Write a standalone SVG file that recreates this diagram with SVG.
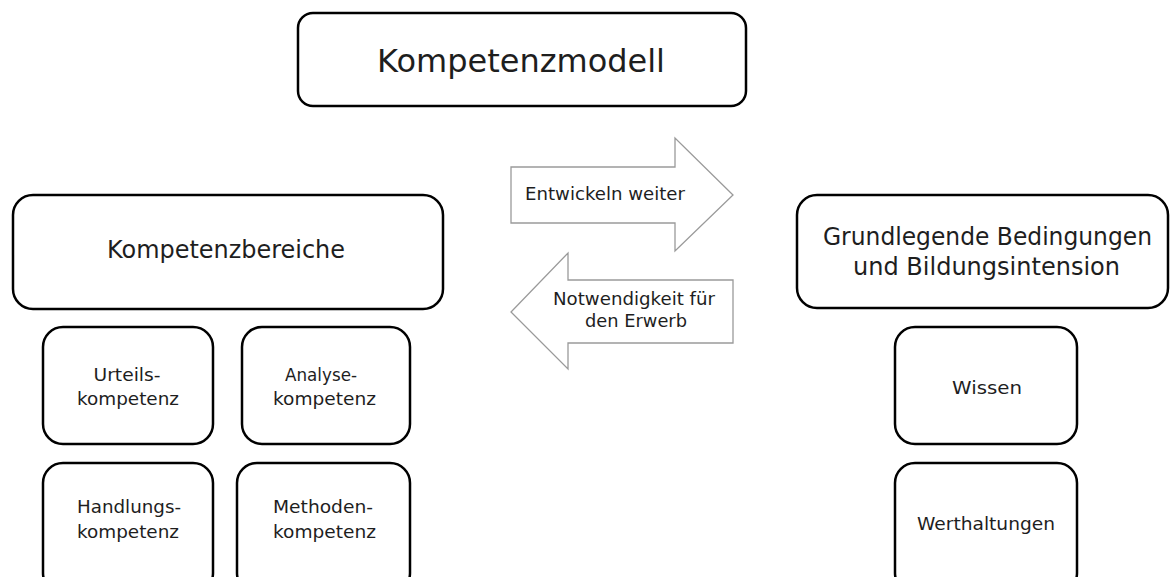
<svg xmlns="http://www.w3.org/2000/svg" width="1172" height="577" viewBox="0 0 1172 577">
<style>
.box{fill:#fff;stroke:#000;stroke-width:2.5}
.arrow{fill:#fff;stroke:#9a9a9a;stroke-width:1.3;stroke-linejoin:miter}
text{font-family:"DejaVu Sans","Liberation Sans",sans-serif;fill:#1e1e1e;text-anchor:middle}
.big{font-size:32px}
.mid{font-size:24px}
.sm{font-size:17px}
</style>
<rect width="1172" height="577" fill="#fff"/>
<g id="kompetenzmodell">
<rect class="box" x="298" y="13" width="448" height="93" rx="15"/>
<text class="big" x="521" y="72" textLength="288" lengthAdjust="spacingAndGlyphs">Kompetenzmodell</text>
</g>
<g id="kompetenzbereiche">
<rect class="box" x="13" y="195" width="430" height="114" rx="20"/>
<text class="mid" x="226" y="258" textLength="238" lengthAdjust="spacingAndGlyphs">Kompetenzbereiche</text>
</g>
<g id="grundlegende">
<rect class="box" x="797" y="195" width="371" height="113" rx="20"/>
<text class="mid" x="987.5" y="245" textLength="329" lengthAdjust="spacingAndGlyphs">Grundlegende Bedingungen</text>
<text class="mid" x="986.5" y="275" textLength="267" lengthAdjust="spacingAndGlyphs">und Bildungsintension</text>
</g>
<g id="urteilskompetenz">
<rect class="box" x="43" y="327" width="170" height="117" rx="20"/>
<text class="sm" x="127" y="381" textLength="67" lengthAdjust="spacingAndGlyphs">Urteils-</text>
<text class="sm" x="128" y="405" textLength="102" lengthAdjust="spacingAndGlyphs">kompetenz</text>
</g>
<g id="analysekompetenz">
<rect class="box" x="242" y="327" width="168" height="117" rx="20"/>
<text class="sm" x="321" y="381" textLength="72" lengthAdjust="spacingAndGlyphs">Analyse-</text>
<text class="sm" x="324.5" y="405" textLength="103" lengthAdjust="spacingAndGlyphs">kompetenz</text>
</g>
<g id="handlungskompetenz">
<rect class="box" x="43" y="463" width="170" height="130" rx="20"/>
<text class="sm" x="129" y="513" textLength="104" lengthAdjust="spacingAndGlyphs">Handlungs-</text>
<text class="sm" x="128" y="538" textLength="102" lengthAdjust="spacingAndGlyphs">kompetenz</text>
</g>
<g id="methodenkompetenz">
<rect class="box" x="237" y="463" width="173" height="130" rx="20"/>
<text class="sm" x="323" y="513" textLength="100" lengthAdjust="spacingAndGlyphs">Methoden-</text>
<text class="sm" x="324.5" y="538" textLength="103" lengthAdjust="spacingAndGlyphs">kompetenz</text>
</g>
<g id="wissen">
<rect class="box" x="895" y="327" width="182" height="117" rx="20"/>
<text class="sm" x="987" y="394" textLength="70" lengthAdjust="spacingAndGlyphs">Wissen</text>
</g>
<g id="werthaltungen">
<rect class="box" x="895" y="463" width="182" height="130" rx="20"/>
<text class="sm" x="986" y="530" textLength="138" lengthAdjust="spacingAndGlyphs">Werthaltungen</text>
</g>
<g id="connectors">
<g id="arrow-entwickeln">
<polygon class="arrow" points="511,167 675,167 675,138 733,195 675,251 675,223 511,223"/>
<text class="sm" x="605" y="200" textLength="160" lengthAdjust="spacingAndGlyphs">Entwickeln weiter</text>
</g>
<g id="arrow-notwendigkeit">
<polygon class="arrow" points="733,280 568,280 568,253 511,312 568,369 568,343 733,343"/>
<text class="sm" x="634" y="305" textLength="162" lengthAdjust="spacingAndGlyphs">Notwendigkeit für</text>
<text class="sm" x="636" y="327" textLength="102" lengthAdjust="spacingAndGlyphs">den Erwerb</text>
</g>
</g>
</svg>
